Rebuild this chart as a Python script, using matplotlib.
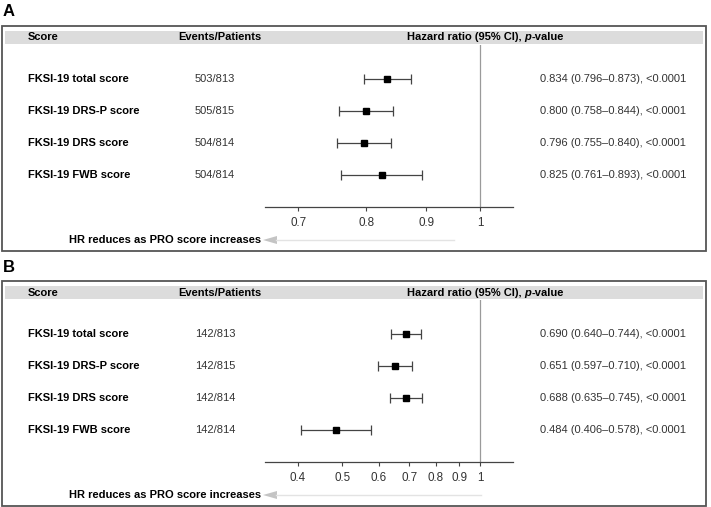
import numpy as np
import matplotlib.pyplot as plt
from matplotlib.patches import Rectangle, Polygon
from matplotlib.transforms import blended_transform_factory

plt.rcParams['font.family'] = ['Liberation Sans', 'DejaVu Sans']

scores = ["FKSI-19 total score", "FKSI-19 DRS-P score", "FKSI-19 DRS score", "FKSI-19 FWB score"]
p_text = ["<0.0001", "<0.0001", "<0.0001", "<0.0001"]

events_a = ["503/813", "505/815", "504/814", "504/814"]
hr_a = [0.834, 0.800, 0.796, 0.825]
lo_a = [0.796, 0.758, 0.755, 0.761]
hi_a = [0.873, 0.844, 0.840, 0.893]
ticks_a = [0.7, 0.8, 0.9, 1]

events_b = ["142/813", "142/815", "142/814", "142/814"]
hr_b = [0.690, 0.651, 0.688, 0.484]
lo_b = [0.640, 0.597, 0.635, 0.406]
hi_b = [0.744, 0.710, 0.745, 0.578]
ticks_b = [0.4, 0.5, 0.6, 0.7, 0.8, 0.9, 1]

W, H = 711, 507
fig = plt.figure(figsize=(W / 100, H / 100), dpi=100)
bg = fig.add_axes([0, 0, 1, 1])
bg.set_xlim(0, W)
bg.set_ylim(H, 0)
bg.axis('off')

FS = 8.05
dark = '#333333'


def panel(letter, top, events, hr, lo, hi, ticks, xlim, arrow_end):
    # top = pixel y of box top
    bg.text(3, top - 14, letter, fontsize=12, fontweight='bold', va='center', ha='left')
    bg.add_patch(Rectangle((2, top), 704, 225, fill=False, ec='#555555', lw=1.3))
    bg.add_patch(Rectangle((5, top + 5), 698, 13, fc='#dcdcdc', ec='none'))
    hy = top + 11.5
    bg.text(28, hy, "Score", fontsize=FS, fontweight='bold', va='center')
    bg.text(178, hy, "Events/Patients", fontsize=FS, fontweight='bold', va='center')
    t1 = bg.text(407, hy, "Hazard ratio (95% CI), ", fontsize=FS, fontweight='bold', va='center')
    t2 = bg.annotate("p", xy=(1, 0), xycoords=t1, va='bottom', ha='left',
                     fontsize=FS, fontweight='bold', fontstyle='italic')
    bg.annotate("-value", xy=(1, 0), xycoords=t2, va='bottom', ha='left',
                fontsize=FS, fontweight='bold')

    # forest axes: rows at top+53 + 32*i, axis line at top+181
    ax_top = top + 19
    ax_bot = top + 181
    ax = fig.add_axes([265 / W, 1 - ax_bot / H, 248 / W, (ax_bot - ax_top) / H])
    ax.set_xscale('log')
    ax.set_xlim(*xlim)
    ax.set_ylim(4, -1.0625)
    y = np.arange(len(hr))
    hr = np.array(hr)
    ax.axvline(1, color='#9a9a9a', lw=0.9, zorder=1)
    ax.errorbar(hr, y, xerr=[hr - np.array(lo), np.array(hi) - hr], fmt='s',
                color='black', ms=4.8, ecolor='#444444', elinewidth=0.9,
                capsize=3.5, capthick=0.9, zorder=3)
    for s in ['top', 'right', 'left']:
        ax.spines[s].set_visible(False)
    ax.spines['bottom'].set_color('#444444')
    ax.spines['bottom'].set_linewidth(0.9)
    ax.set_yticks([])
    ax.set_xticks(ticks)
    ax.set_xticklabels([f"{t:g}" for t in ticks])
    ax.xaxis.set_minor_locator(plt.NullLocator())
    ax.tick_params(axis='x', length=3, width=0.8, color='#444444', labelsize=FS + 0.3,
                   labelcolor=dark, pad=4)

    tr = blended_transform_factory(bg.transData, ax.transData)
    for i in range(len(hr)):
        ax.text(28, i, scores[i], transform=tr, fontsize=FS, fontweight='bold', va='center')
        ax.text(195, i, events[i], transform=tr, fontsize=FS, color=dark, va='center')
        ax.text(540, i, f"{hr[i]:.3f} ({lo[i]:.3f}\u2013{hi[i]:.3f}), {p_text[i]}",
                transform=tr, fontsize=FS, color=dark, va='center')

    # direction arrow
    ay = top + 214
    bg.plot([276, arrow_end], [ay, ay], color='#e3e3e3', lw=1.0)
    bg.add_patch(Polygon([[263, ay], [277, ay - 4], [277, ay + 4]], closed=True,
                         fc='#c4c4c4', ec='none'))
    bg.text(261, ay, "HR reduces as PRO score increases", fontsize=FS, fontweight='bold',
            ha='right', va='center')


panel("A", 26, events_a, hr_a, lo_a, hi_a, ticks_a, (0.656, 1.067), 454)
panel("B", 281, events_b, hr_b, lo_b, hi_b, ticks_b, (0.339, 1.18), 481)

fig.savefig("out.png", dpi=100)
